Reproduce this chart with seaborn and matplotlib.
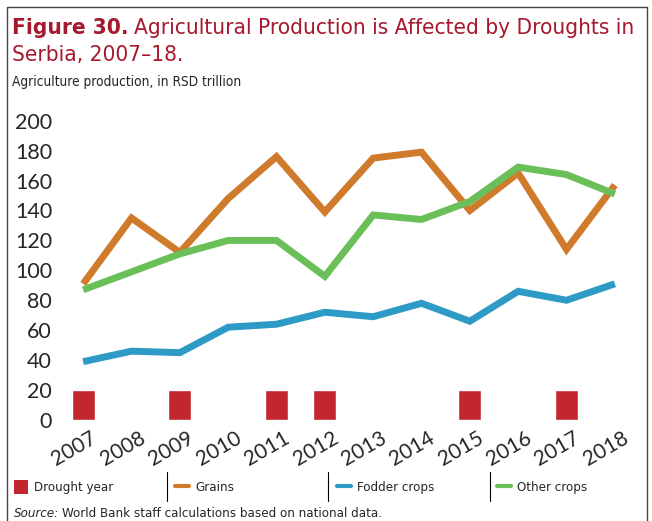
import numpy as np
import pandas as pd
import matplotlib.pyplot as plt
import matplotlib.transforms as mtransforms
import matplotlib.font_manager as fm
from matplotlib.lines import Line2D
from matplotlib.patches import Patch
import seaborn as sns

# Dados
anos = ['2007', '2008', '2009', '2010', '2011', '2012',
        '2013', '2014', '2015', '2016', '2017', '2018']
graos = [91, 135, 112, 148, 176, 139, 175, 179, 140, 165, 114, 157]
forragem = [39, 46, 45, 62, 64, 72, 69, 78, 66, 86, 80, 91]
outras = [87, 99, 111, 120, 120, 96, 137, 134, 146, 169, 164, 151]
seca = [20, 0, 20, 0, 20, 20, 0, 0, 20, 0, 20, 0]

df = pd.DataFrame({'Ano': anos, 'Grains': graos, 'Fodder crops': forragem,
                   'Other crops': outras, 'Drought year': seca})

cor_graos = '#D07A2C'
cor_forragem = '#2E9AC6'
cor_outras = '#6BBF59'
cor_seca = '#C1272D'
cor_titulo = '#A6192E'

sns.set_style('white')

# procura uma fonte estreita instalada; se não houver, usa Liberation Sans
estreitas = [f for f in fm.fontManager.ttflist
             if 'Narrow' in f.name or 'Condensed' in f.name
             or f.stretch in ('condensed', 'semi-condensed', 'narrow')]
if estreitas:
    nome = sorted(estreitas, key=lambda f: ('Sans' not in f.name, f.name))[0]
    fonte_estreita = {'family': [nome.name, 'DejaVu Sans'], 'stretch': nome.stretch}
else:
    fonte_estreita = {'family': ['Liberation Sans', 'DejaVu Sans']}
fonte_ticks = ['Lato', 'DejaVu Sans']

W, H = 652, 521
fig = plt.figure(figsize=(W / 100, H / 100), dpi=100)
ax = fig.add_axes([59 / W, 1 - 420 / H, 580 / W, 299.3 / H])
renderer = fig.canvas.get_renderer()

# Barras dos anos de seca
sns.barplot(data=df, x='Ano', y='Drought year', color=cor_seca, width=0.48,
            saturation=1, ax=ax)

# Linhas
for serie, cor in [('Grains', cor_graos), ('Fodder crops', cor_forragem),
                   ('Other crops', cor_outras)]:
    sns.lineplot(data=df, x='Ano', y=serie, color=cor, lw=5, ax=ax,
                 solid_joinstyle='miter', solid_capstyle='butt')

ax.set_ylim(0, 200)
ax.set_xlim(-0.5, 11.5)
ax.set_yticks(range(0, 201, 20))
ax.set_xlabel('')
ax.set_ylabel('')
ax.tick_params(length=0, pad=5)
ax.tick_params(axis='x', pad=6)
for lab in ax.get_yticklabels():
    lab.set_fontfamily(fonte_ticks)
    lab.set_fontsize(15.5)
desloc = mtransforms.ScaledTranslation(-0.09, 0, fig.dpi_scale_trans)
for lab in ax.get_xticklabels():
    lab.set_fontfamily(fonte_ticks)
    lab.set_fontsize(15)
    lab.set_rotation(30)
    lab.set_ha('center')
    lab.set_va('top')
    lab.set_transform(lab.get_transform() + desloc)
sns.despine(ax=ax, left=True, bottom=True)


def linha_mista(x0, y0, partes, largura, tam, **kw):
    # escreve partes com estilos diferentes lado a lado e ajusta o tamanho
    textos = [fig.text(x0 / W, 1 - y0 / H, s, fontsize=tam, va='baseline',
                       **fonte_estreita, **kw, **estilo) for s, estilo in partes]
    total = sum(t.get_window_extent(renderer).width for t in textos)
    esp = 0.25 * tam * 100 / 72 * (len(textos) - 1)
    fator = largura / (total + esp)
    tam2 = tam * fator
    x = x0
    for t in textos:
        t.set_fontsize(tam2)
        t.set_x(x / W)
        x += t.get_window_extent(renderer).width + 0.25 * tam2 * 100 / 72
    return tam2


# Título
tam_tit = linha_mista(12, 34, [('Figure 30.', {'weight': 'bold'}),
                               ('Agricultural Production is Affected by Droughts in', {})],
                      621, 19, color=cor_titulo)
fig.text(12 / W, 1 - 61 / H, 'Serbia, 2007\u201318.', fontsize=tam_tit,
         color=cor_titulo, va='baseline', **fonte_estreita)
linha_mista(12, 86, [('Agriculture production, in RSD trillion', {})], 230, 10.5)

# Legenda
tmp = fig.text(0, 0, 'Drought year', fontsize=12, **fonte_estreita)
tam_leg = 12 * 79 / tmp.get_window_extent(renderer).width
tmp.remove()
itens = [
    (Patch(facecolor=cor_seca, edgecolor='none'), 'Drought year', 14),
    (Line2D([], [], color=cor_graos, lw=3), 'Grains', 175),
    (Line2D([], [], color=cor_forragem, lw=3), 'Fodder crops', 337),
    (Line2D([], [], color=cor_outras, lw=3), 'Other crops', 497),
]
em = tam_leg * 100 / 72
for h, nome_item, xpos in itens:
    fig.legend([h], [nome_item], loc='center left',
               bbox_to_anchor=(xpos / W, 1 - 487 / H),
               frameon=False, borderpad=0, borderaxespad=0,
               handlelength=14 / em, handleheight=17 / em,
               handletextpad=6 / em,
               prop={**fonte_estreita, 'size': tam_leg})
for xs in [167, 328, 490]:
    fig.add_artist(Line2D([xs / W, xs / W], [1 - 472 / H, 1 - 501 / H],
                          color='black', lw=0.8))

# Fonte dos dados
linha_mista(14, 517, [('Source:', {'style': 'italic'}),
                      ('World Bank staff calculations based on national data.', {})],
            369, 10.5)

# Moldura
borda = '#444444'
fig.add_artist(Line2D([7 / W, 7 / W], [0, 1 - 7 / H], color=borda, lw=1))
fig.add_artist(Line2D([7 / W, 647 / W], [1 - 7 / H, 1 - 7 / H], color=borda, lw=1))
fig.add_artist(Line2D([647 / W, 647 / W], [0, 1 - 7 / H], color=borda, lw=1))

fig.savefig('out.png', dpi=100)
